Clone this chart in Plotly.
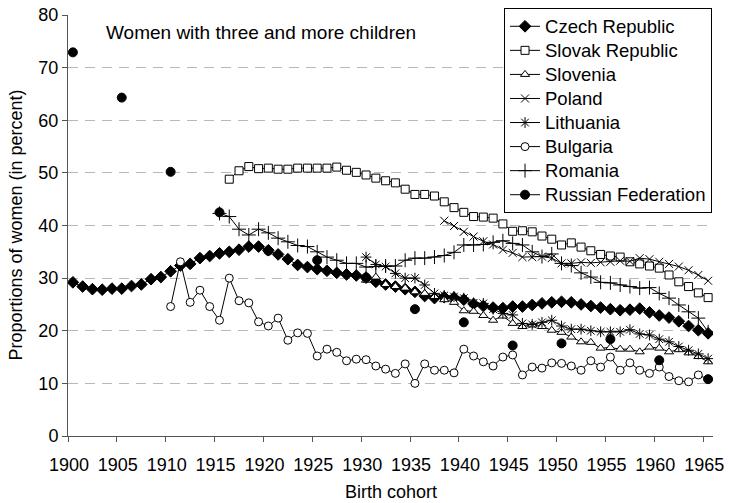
import plotly.graph_objects as go

# ---------------- data ----------------
czech_years = list(range(1900, 1966))
czech = [29.2, 28.4, 27.9, 27.8, 28.0, 28.0, 28.5, 28.8, 29.8, 30.2,
         31.3, 32.4, 32.7, 33.8, 34.2, 34.7, 35.0, 35.4, 36.0, 36.0,
         35.3, 34.5, 33.6, 32.5, 32.1, 31.7, 31.4, 31.0, 30.7, 30.5,
         30.1, 29.3, 28.8, 28.4, 27.9, 27.4, 26.6, 26.2, 26.4, 26.3,
         25.9, 25.1, 24.7, 24.4, 24.3, 24.6, 24.6, 24.9, 25.2, 25.4,
         25.5, 25.4, 25.0, 24.7, 24.4, 24.1, 23.9, 24.0, 24.2, 23.5,
         22.9, 22.5, 21.8, 20.9, 20.1, 19.5]

slovak_years = list(range(1916, 1966))
slovak = [48.8, 50.4, 51.2, 50.8, 50.9, 50.7, 50.7, 50.9, 50.9, 50.9,
          50.9, 51.1, 50.5, 50.1, 49.6, 49.0, 48.5, 48.1, 46.9, 45.9,
          45.9, 45.6, 44.5, 43.4, 42.5, 41.7, 41.6, 41.4, 40.3, 38.9,
          39.0, 38.8, 38.0, 37.4, 36.3, 36.7, 35.9, 35.2, 34.5, 34.2,
          34.0, 33.1, 32.7, 32.3, 31.9, 30.6, 29.3, 28.4, 27.2, 26.3]

slovenia_years = list(range(1930, 1966))
slovenia = [29.6, 30.2, 28.8, 28.4, 28.1, 27.4, 27.1, 26.5, 25.9, 25.4,
            23.8, 23.7, 22.9, 22.0, 22.8, 21.4, 20.8, 21.1, 20.8, 20.1,
            19.7, 18.8, 17.9, 17.8, 16.7, 16.8, 16.5, 16.5, 16.0, 16.9,
            16.7, 16.0, 16.4, 15.8, 15.1, 14.1]

poland_years = list(range(1938, 1966))
poland = [40.9, 39.9, 38.8, 37.9, 37.0, 36.4, 35.4, 34.8, 34.0, 34.0,
          34.1, 33.8, 32.8, 32.8, 33.0, 32.9, 33.0, 33.1, 33.3, 33.2,
          33.8, 33.6, 33.1, 32.7, 32.2, 31.5, 30.6, 29.5]

lithuania_years = list(range(1930, 1966))
lithuania = [34.0, 32.6, 32.2, 30.9, 30.0, 30.0, 28.7, 27.1, 26.7, 26.5,
             26.2, 25.3, 25.2, 24.1, 23.3, 23.0, 21.4, 21.2, 21.6, 22.0,
             20.9, 20.3, 20.3, 20.0, 19.8, 19.8, 19.8, 20.2, 19.4, 19.2,
             18.4, 17.9, 17.0, 16.3, 15.6, 14.7]

bulgaria_years = list(range(1910, 1966))
bulgaria = [24.6, 33.1, 25.4, 27.7, 24.6, 22.0, 30.0, 25.7, 25.3, 21.7,
            20.9, 22.4, 18.2, 19.6, 19.5, 15.2, 16.5, 15.9, 14.3, 14.6,
            14.5, 13.3, 12.7, 11.9, 13.7, 10.0, 13.7, 12.5, 12.5, 12.0,
            16.5, 15.2, 14.1, 13.3, 15.0, 15.4, 11.6, 13.1, 12.9, 13.9,
            13.8, 13.3, 12.5, 14.3, 13.1, 15.0, 12.5, 13.9, 12.5, 11.9,
            13.1, 11.3, 10.5, 10.3, 11.6, 10.8]

romania_years = list(range(1915, 1966))
romania = [42.3, 41.7, 39.3, 38.2, 39.3, 38.6, 37.6, 36.9, 36.2, 36.0,
           35.0, 34.0, 33.4, 32.8, 32.8, 32.1, 32.2, 32.3, 32.3, 33.4,
           33.8, 33.8, 34.0, 34.3, 34.9, 36.3, 36.3, 36.4, 36.8, 37.1,
           36.6, 36.3, 35.0, 34.1, 34.6, 32.8, 32.4, 31.0, 30.2, 29.2,
           29.1, 28.7, 28.4, 28.1, 28.2, 27.1, 26.2, 24.9, 23.6, 22.4,
           19.8]

russia_years = list(range(1900, 1966, 5))
russia = [72.9, 64.3, 50.2, 42.5, 35.2, 33.4, 30.1, 24.1, 21.6, 17.2,
          17.6, 18.4, 14.4, 10.8]

x_tick_years = list(range(1900, 1966, 5))
y_ticks = list(range(0, 90, 10))

# ---------------- styling ----------------
FONT = "Liberation Sans, Arial, sans-serif"
FS = 19
AX = "#555555"

fig = go.Figure()


def add_series(name, xs, ys, symbol, size, fill="black", legend=True, mode="lines+markers"):
    fig.add_trace(go.Scatter(
        x=xs, y=ys, name="<span style='font-size:18.5px'>" + name + "</span>",
        mode=mode, showlegend=legend, hoverinfo="x+y",
        line=dict(color="black", width=1),
        marker=dict(symbol=symbol, size=size, color=fill,
                    line=dict(color="black", width=1)),
    ))


add_series("Czech Republic", czech_years, czech, "diamond", 9)
add_series("Slovak Republic", slovak_years, slovak, "square", 8, fill="white")
add_series("Slovenia", slovenia_years, slovenia, "triangle-up", 8, fill="white")
add_series("Poland", poland_years, poland, "x-thin-open", 8)
add_series("Lithuania", lithuania_years, lithuania, "asterisk-open", 9)
add_series("Bulgaria", bulgaria_years, bulgaria, "circle", 8, fill="white")
add_series("Romania", romania_years, romania, "cross-thin-open", 10)
# legend entry for Russian Federation (shown with a line in the legend)
add_series("Russian Federation", [None], [None], "circle", 9)
# actual Russian Federation points: markers only
add_series("Russian Federation", russia_years, russia, "circle", 9,
           legend=False, mode="markers")

fig.update_layout(
    width=729, height=503,
    margin=dict(l=68, r=16, t=15, b=67, autoexpand=False),
    paper_bgcolor="white", plot_bgcolor="white",
    font=dict(family=FONT, size=FS, color="black"),
    showlegend=True,
    legend=dict(x=0.676, y=1.016, xanchor="left", yanchor="top",
                bgcolor="white", bordercolor="black", borderwidth=1,
                font=dict(family=FONT, size=16.2, color="black"),
                tracegroupgap=0),
    annotations=[
        dict(text="Women with three and more children", xref="paper", yref="paper",
             x=0.0558, y=0.9596, xanchor="left", yanchor="middle", showarrow=False,
             font=dict(family=FONT, size=FS, color="black")),
        dict(text="Birth cohort", xref="paper", yref="paper",
             x=0.5, y=-0.133, xanchor="center", yanchor="middle", showarrow=False,
             font=dict(family=FONT, size=FS - 1, color="black")),
        dict(text="Proportions of women (in percent)", xref="paper", yref="paper",
             x=-0.082, y=0.5, xanchor="center", yanchor="middle", showarrow=False,
             textangle=-90, font=dict(family=FONT, size=FS - 1, color="black")),
    ],
)

fig.update_xaxes(
    range=[1899.5, 1965.5], tickmode="array",
    tickvals=[v - 0.4 for v in x_tick_years],
    ticktext=[str(v) for v in x_tick_years],
    ticks="outside", ticklen=12, tickcolor="rgba(0,0,0,0)", automargin=False,
    showgrid=False, zeroline=False, showline=True, linecolor=AX, linewidth=1,
    tickfont=dict(family=FONT, size=18, color="black"),
    minor=dict(tickmode="linear", tick0=1899.5, dtick=5, ticks="outside",
               ticklen=5, tickcolor=AX, tickwidth=1, showgrid=False),
)
fig.update_yaxes(
    range=[0, 80], tickmode="array", tickvals=y_ticks, automargin=False,
    ticks="outside", ticklen=5, tickcolor=AX, tickwidth=1,
    showgrid=True, gridcolor="#b8b8b8", gridwidth=1, griddash="10px,7px",
    zeroline=False, showline=True, linecolor=AX, linewidth=1,
    tickfont=dict(family=FONT, size=18, color="black"),
)

fig.write_html("out.html", config={"displayModeBar": False},
               post_script="document.body.style.margin='0';document.body.style.overflow='hidden';")
